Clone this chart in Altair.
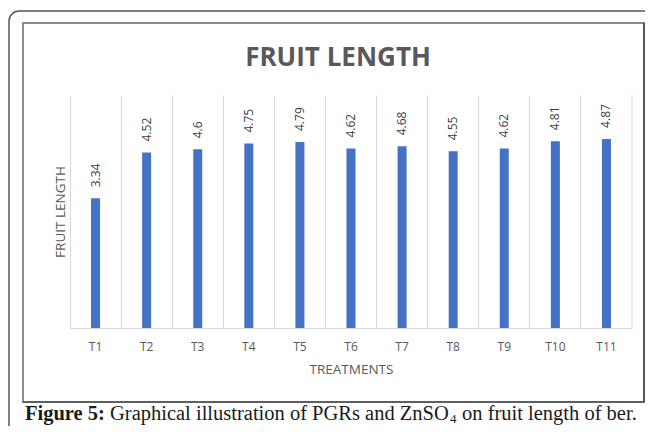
import altair as alt
import pandas as pd

treatments = ["T1", "T2", "T3", "T4", "T5", "T6", "T7", "T8", "T9", "T10", "T11"]
fruit_length = [3.34, 4.52, 4.6, 4.75, 4.79, 4.62, 4.68, 4.55, 4.62, 4.81, 4.87]

chart_title = "FRUIT LENGTH"
x_title = "TREATMENTS"
y_title = "FRUIT LENGTH"
caption_bold = "Figure 5:"
caption_main = "Graphical illustration of PGRs and ZnSO"
caption_sub = "4"
caption_end = "on fruit length of ber."

df = pd.DataFrame({"t": treatments, "v": fruit_length})
one = pd.DataFrame({"a": [0]})

W, H = 562, 233
GRAY = "#595959"

xs = alt.X("t:N", sort=treatments,
           scale=alt.Scale(paddingInner=0, paddingOuter=0),
           axis=alt.Axis(title=x_title, labels=False, ticks=False, tickSize=0,
                         grid=True, gridColor="#d9d9d9", gridWidth=1, bandPosition=0,
                         domainColor="#d9d9d9", titleFont="Open Sans", titleFontSize=13.5,
                         titleFontWeight="normal", titleColor=GRAY, titlePadding=34))
ys = alt.Y("v:Q", scale=alt.Scale(domain=[0, 6]),
           axis=alt.Axis(title=y_title, labels=False, ticks=False, domain=False, grid=False,
                         titleFont="Open Sans", titleFontSize=13.5, titleFontWeight="normal",
                         titleColor=GRAY, titlePadding=3))

outer = alt.Chart(one).mark_rect(fill="transparent", stroke="#555555", strokeWidth=1.5,
                                 cornerRadius=10).encode(
    x=alt.value(-61), x2=alt.value(640), y=alt.value(-84), y2=alt.value(380))
inner = alt.Chart(one).mark_rect(fill="transparent", stroke="#8c8c8c", strokeWidth=2).encode(
    x=alt.value(-47), x2=alt.value(574), y=alt.value(-72), y2=alt.value(307))
inner_r = alt.Chart(one).mark_rule(color="#333333", strokeWidth=1.2).encode(
    x=alt.value(574), y=alt.value(-72), y2=alt.value(307))
inner_b = alt.Chart(one).mark_rule(color="#333333", strokeWidth=1.2).encode(
    x=alt.value(-47), x2=alt.value(574), y=alt.value(307))

bars = alt.Chart(df).mark_bar(color="#4472C4", size=9).encode(x=xs, y=ys)

right_grid = alt.Chart(one).mark_rule(color="#d9d9d9", strokeWidth=1).encode(
    x=alt.value(W), y=alt.value(0), y2=alt.value(H))

vlabels = alt.Chart(df).mark_text(angle=270, align="left", baseline="middle", dx=11,
                                  font="Open Sans", fontSize=12, color="#404040").encode(
    x=alt.X("t:N", sort=treatments), y="v:Q", text=alt.Text("v:Q", format="~g"))

xlabels = alt.Chart(df).mark_text(baseline="middle", font="Open Sans", fontSize=12,
                                  color=GRAY).encode(
    x=alt.X("t:N", sort=treatments), y=alt.value(H + 19), text="t:N")

title = alt.Chart(one).mark_text(font="Open Sans", fontSize=26, fontWeight="bold",
                                 color=GRAY, baseline="middle").encode(
    x=alt.value(268), y=alt.value(-37), text=alt.value(chart_title))

cap_y = 325
CF = 20.5
cap1 = alt.Chart(one).mark_text(font="Liberation Serif", fontSize=CF, fontWeight="bold",
                                align="left", baseline="alphabetic", color="#1a1a1a").encode(
    x=alt.value(-45), y=alt.value(cap_y), text=alt.value(caption_bold))
cap2 = alt.Chart(one).mark_text(font="Liberation Serif", fontSize=CF,
                                align="left", baseline="alphabetic", color="#1a1a1a").encode(
    x=alt.value(40), y=alt.value(cap_y), text=alt.value(caption_main))
cap3 = alt.Chart(one).mark_text(font="Liberation Serif", fontSize=13,
                                align="left", baseline="alphabetic", color="#1a1a1a").encode(
    x=alt.value(380), y=alt.value(cap_y + 3), text=alt.value(caption_sub))
cap4 = alt.Chart(one).mark_text(font="Liberation Serif", fontSize=CF,
                                align="left", baseline="alphabetic", color="#1a1a1a").encode(
    x=alt.value(392), y=alt.value(cap_y), text=alt.value(caption_end))

chart = alt.layer(outer, inner, inner_r, inner_b, bars, right_grid, vlabels, xlabels, title,
                  cap1, cap2, cap3, cap4).properties(
    width=W, height=H,
    autosize=alt.AutoSizeParams(type="none"),
    padding={"left": 62, "top": 87, "right": 13, "bottom": 98},
).configure_view(strokeWidth=0)

chart.save("out.html", embed_options={"renderer": "svg", "actions": False})
